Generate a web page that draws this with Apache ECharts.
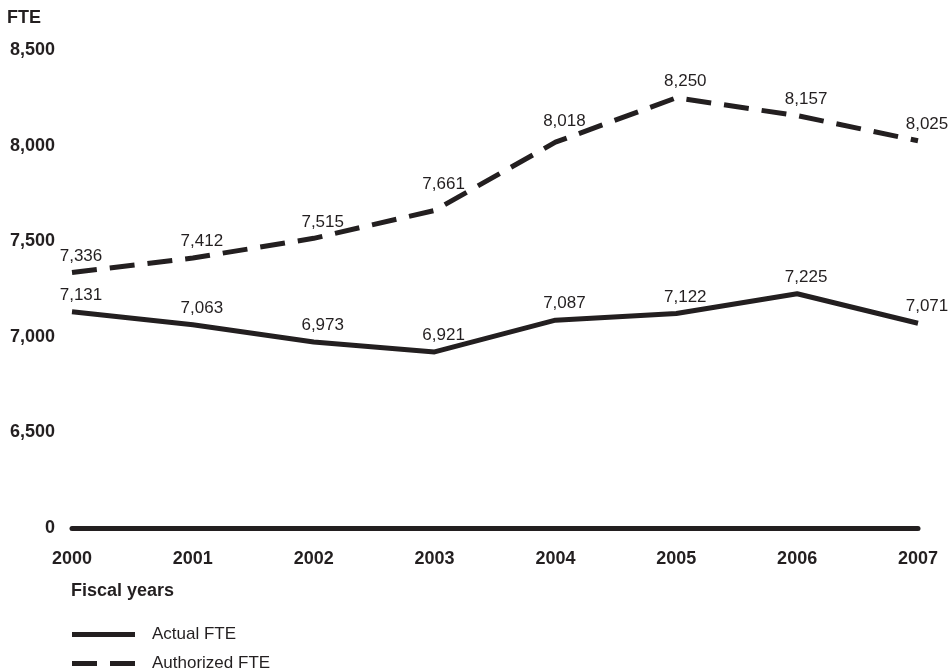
<!DOCTYPE html>
<html>
<head>
<meta charset="utf-8">
<script src="https://cdn.jsdelivr.net/npm/echarts@6/dist/echarts.min.js"></script>
<style>html,body{margin:0;padding:0;background:#fff}#c{width:951px;height:672px}</style>
</head>
<body>
<div id="c"></div>
<script>
var years = ['2000','2001','2002','2003','2004','2005','2006','2007'];
var actualFTE = [7131, 7063, 6973, 6921, 7087, 7122, 7225, 7071];
var authorizedFTE = [7336, 7412, 7515, 7661, 8018, 8250, 8157, 8025];
var yTicks = [6000, 6500, 7000, 7500, 8000, 8500];
var yTickLabels = ['0', '6,500', '7,000', '7,500', '8,000', '8,500'];

var ink = '#231f20';
var font = 'Liberation Sans, Arial, sans-serif';
function fmt(v){ return v.toLocaleString('en-US'); }

// label nudges (style only) for a few authorized points, by index
var authLabelLift = { 3: -10, 4: -4 };
var authData = authorizedFTE.map(function(v, i){
  return authLabelLift[i] ? { value: v, label: { offset: [9, authLabelLift[i]] } } : v;
});

var chart = echarts.init(document.getElementById('c'));
chart.setOption({
  animation: false,
  textStyle: { fontFamily: font, color: ink },
  grid: { left: 72, right: 33, top: 50, bottom: 144, containLabel: false },
  title: [
    { text: 'FTE', left: 7, top: 9, padding: 0, textStyle: { fontFamily: font, fontSize: 18, fontWeight: 'bold', color: ink } },
    { text: 'Fiscal years', left: 71, top: 582, padding: 0, textStyle: { fontFamily: font, fontSize: 18, fontWeight: 'bold', color: ink } }
  ],
  legend: {
    orient: 'vertical', left: 72, top: 626, height: 60, padding: 0,
    itemWidth: 63, itemHeight: 5, itemGap: 12,
    textStyle: { fontFamily: font, fontSize: 17, color: ink, padding: [0,0,0,12] },
    data: [
      { name: 'Actual FTE', icon: 'rect', itemStyle: { color: ink } },
      { name: 'Authorized FTE', icon: 'path://M0,0h25v5h-25z M38,0h25v5h-25z', itemStyle: { color: ink } }
    ]
  },
  xAxis: {
    type: 'category', data: years, boundaryGap: false,
    axisLine: { lineStyle: { color: ink, width: 5 } },
    axisTick: { show: false },
    axisLabel: { fontFamily: font, fontSize: 18, fontWeight: 'bold', color: ink, margin: 22 }
  },
  yAxis: {
    type: 'value', min: 6000, max: 8500, interval: 500,
    axisLine: { show: false }, axisTick: { show: false }, splitLine: { show: false },
    axisLabel: {
      fontFamily: font, fontSize: 18, fontWeight: 'bold', color: ink, margin: 17,
      formatter: function(v){ var i = yTicks.indexOf(v); return i >= 0 ? yTickLabels[i] : ''; }
    }
  },
  series: [
    {
      name: 'Actual FTE', type: 'line', data: actualFTE,
      symbol: 'circle', symbolSize: 0, showSymbol: true,
      lineStyle: { color: ink, width: 5 }, itemStyle: { color: ink },
      label: { show: true, position: 'top', distance: 8, offset: [9, 0], fontFamily: font, fontSize: 17, color: ink, formatter: function(p){ return fmt(p.value); } }
    },
    {
      name: 'Authorized FTE', type: 'line', data: authData,
      symbol: 'circle', symbolSize: 0, showSymbol: true,
      lineStyle: { color: ink, width: 5, type: [25, 13] }, itemStyle: { color: ink },
      label: { show: true, position: 'top', distance: 8, offset: [9, 0], fontFamily: font, fontSize: 17, color: ink, formatter: function(p){ return fmt(p.value); } }
    }
  ]
});
</script>
</body>
</html>
